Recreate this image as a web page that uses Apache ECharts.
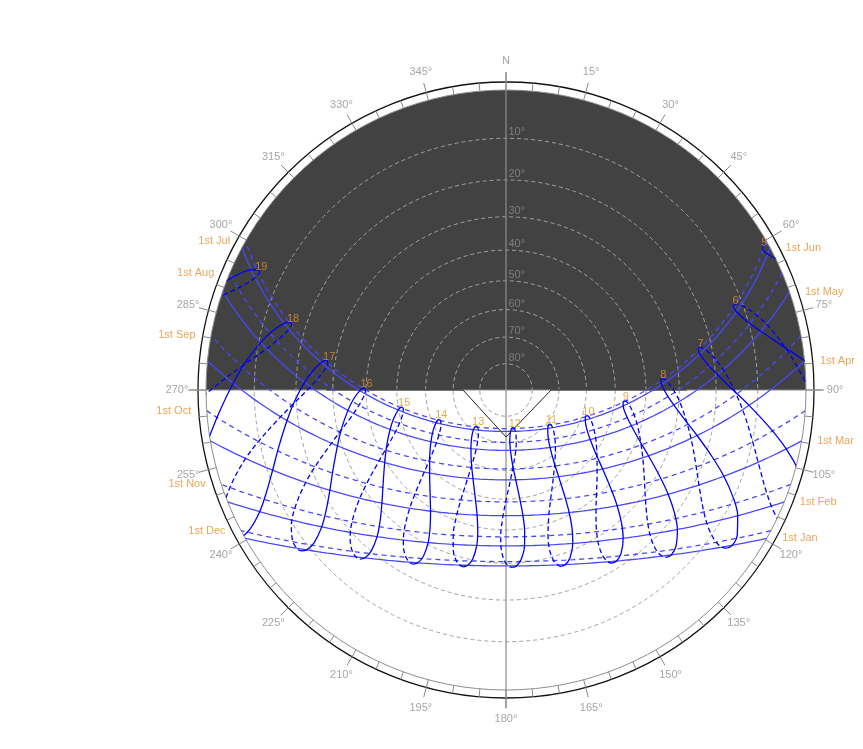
<!DOCTYPE html>
<html><head><meta charset="utf-8">
<script src="https://cdn.jsdelivr.net/npm/echarts@6/dist/echarts.min.js"></script>
<style>html,body{margin:0;padding:0;background:#fff}#c{width:863px;height:749px}</style>
</head><body><div id="c"></div>
<script>
// ---- site ----
const latitude = 37.77;
const longitude = -122.42;
const timeZone = -8;

// ---- date table (1st / 15th of each month + solstices), in yearly order ----
const dayNames = ['1 Jan','15 Jan','1 Feb','15 Feb','1 Mar','15 Mar','1 Apr','15 Apr','1 May','15 May','1 Jun','15 Jun','21 Jun',
  '1 Jul','15 Jul','1 Aug','15 Aug','1 Sep','15 Sep','1 Oct','15 Oct','1 Nov','15 Nov','1 Dec','15 Dec','21 Dec'];
const declination = [-23.01,-21.17,-17.15,-12.77,-7.70,-2.28,4.42,9.67,15.02,18.83,22.03,23.31,23.44,
  23.12,21.57,17.98,13.96,8.28,2.98,-3.13,-8.54,-14.39,-18.53,-21.77,-23.27,-23.44];
const equationOfTime = [-3.2,-9.1,-13.6,-14.2,-12.5,-9.0,-4.0,0.0,2.9,3.7,2.3,-0.2,-1.5,
  -3.8,-5.9,-6.3,-4.5,0.0,4.6,10.1,14.1,16.4,15.4,11.0,4.9,2.0];

// ---- date lines ----
const dateLineNames = ['1st Jan','1st Feb','1st Mar','1st Apr','1st May','1st Jun','1st Jul','1st Aug','1st Sep','1st Oct','1st Nov','1st Dec'];
const dateLineIndex = [0,2,4,6,8,10,13,15,17,19,21,23];
// ---- hour lines ----
const hours = [5,6,7,8,9,10,11,12,13,14,15,16,17,18,19];
const firstHalfIndex = [25,0,1,2,3,4,5,6,7,8,9,10,11,12];
const secondHalfIndex = [12,13,14,15,16,17,18,19,20,21,22,23,24,25];
const hourLabelIndex = 12;
// ---- grid ----
const altitudeRings = [10,20,30,40,50,60,70,80];
const azimuthTicks = Array.from({length:72},(_,i)=>i*5);
const azimuthLabelAngles = [0,15,30,45,60,75,90,105,120,135,150,165,180,195,210,225,240,255,270,285,300,315,330,345];
const azimuthLabelTexts = ['N','15°','30°','45°','60°','75°','90°','105°','120°','135°','150°','165°','180°','195°','210°','225°','240°','255°','270°','285°','300°','315°','330°','345°'];
// ---- obstruction outline (azimuth, altitude) ----
const maskAzimuth = [270,270,180,90,90];
const maskAltitude = [28.2,73.7,72.2,72.9,27.9];

const D2R = Math.PI/180;
const lonCorr = 4*(longitude - 15*timeZone);
function stereo(alt){ return Math.tan((90-alt)/2*D2R); }
function sunAt(i, clock){
  const d = declination[i]*D2R, p = latitude*D2R;
  const solar = clock + (equationOfTime[i] + lonCorr)/60;
  const H = (solar-12)*15*D2R;
  const sa = Math.sin(p)*Math.sin(d)+Math.cos(p)*Math.cos(d)*Math.cos(H);
  const alt = Math.asin(Math.max(-1,Math.min(1,sa)))/D2R;
  const xE = -Math.cos(d)*Math.sin(H);
  const yN = Math.sin(d)*Math.cos(p) - Math.cos(d)*Math.sin(p)*Math.cos(H);
  let az = Math.atan2(xE,yN)/D2R; if(az<0) az+=360;
  return {alt, az};
}
function riseSet(i){
  const d = declination[i]*D2R, p = latitude*D2R;
  const h0 = Math.acos(-Math.tan(p)*Math.tan(d))/D2R/15;
  const shift = (equationOfTime[i]+lonCorr)/60;
  return [12-h0-shift, 12+h0-shift];
}

const FONT = 'Liberation Sans, Arial, sans-serif';
const HOUR_COLOR = '#0000f5';
const DATE_COLOR = '#4848fa';
const ORANGE = '#e0922e';
const series = [];

// dark half disk (northern half of the sky)
series.push({
  type:'custom', coordinateSystem:'polar', polarIndex:0, z:1, silent:true,
  data:[[1,270,450]],
  renderItem:(params, api)=>{
    const c = api.coord([0,0]);
    const p = api.coord([api.value(0),0]);
    const r = c[1]-p[1];
    return {type:'sector', shape:{cx:c[0],cy:c[1],r0:0,r:r,
      startAngle:(api.value(1)-90)*D2R, endAngle:(api.value(2)-90)*D2R, clockwise:true},
      style:{fill:'#424242'}};
  }
});
// altitude rings
series.push({
  type:'custom', coordinateSystem:'polar', polarIndex:0, z:2, silent:true,
  data: altitudeRings.map(a=>[stereo(a),0]),
  renderItem:(params, api)=>{
    const c = api.coord([0,0]);
    const p = api.coord([api.value(0),0]);
    return {type:'circle', shape:{cx:c[0],cy:c[1],r:c[1]-p[1]},
      style:{fill:'none', stroke:'#a2a2a2', lineWidth:1, lineDash:[4,3]}};
  }
});
// outer rings
series.push({
  type:'custom', coordinateSystem:'polar', polarIndex:1, z:3, silent:true,
  data:[[1,0],[1.0267,0]],
  renderItem:(params, api)=>{
    const c = api.coord([0,0]);
    const p = api.coord([api.value(0),0]);
    return {type:'circle', shape:{cx:c[0],cy:c[1],r:c[1]-p[1]},
      style:{fill:'none', stroke: params.dataIndex===0?'#8e8e8e':'#111', lineWidth: params.dataIndex===0?1:1.3}};
  }
});
// ticks
series.push({
  type:'custom', coordinateSystem:'polar', polarIndex:1, z:3, silent:true,
  data: azimuthTicks.map(a=>[1,a]),
  renderItem:(params, api)=>{
    const a = api.value(1);
    const major = a%15===0;
    const p1 = api.coord([1,a]);
    const p2 = api.coord([major?1.06:1.0267,a]);
    return {type:'line', shape:{x1:p1[0],y1:p1[1],x2:p2[0],y2:p2[1]},
      style:{stroke:'#8a8a8a', lineWidth:1}};
  }
});
// cross lines
series.push({type:'line', coordinateSystem:'polar', polarIndex:1, z:4, silent:true, symbol:'none', clip:false,
  data:[[1.055,270],[1.055,90]], lineStyle:{color:'#8c8c8c', width:1.2}});
series.push({type:'line', coordinateSystem:'polar', polarIndex:1, z:4, silent:true, symbol:'none', clip:false,
  data:[[1.058,0],[1.062,180]], lineStyle:{color:'#8c8c8c', width:1.2}});
// obstruction outline
series.push({type:'line', coordinateSystem:'polar', polarIndex:0, z:5, silent:true, symbol:'none',
  data: maskAzimuth.map((a,i)=>[stereo(maskAltitude[i]),a]), lineStyle:{color:'#222', width:1}});

// date lines
dateLineIndex.forEach((idx, k)=>{
  const [rise,set] = riseSet(idx);
  const pts = [];
  for(let t=rise; t<set; t+=1/12){ const s=sunAt(idx,t); pts.push([stereo(Math.max(0,s.alt)), s.az]); }
  const s=sunAt(idx,set); pts.push([stereo(Math.max(0,s.alt)), s.az]);
  series.push({type:'line', coordinateSystem:'polar', polarIndex:0, z:6, silent:true, symbol:'none',
    name: dateLineNames[k], data: pts,
    lineStyle:{color:DATE_COLOR, width:1.3, type: k<6?'solid':[5,4]}});
});
// hour lines
hours.forEach(h=>{
  [firstHalfIndex, secondHalfIndex].forEach((list, half)=>{
    const pts = list.map(i=>{ const s=sunAt(i,h); return [stereo(s.alt), s.az]; });
    series.push({type:'line', coordinateSystem:'polar', polarIndex:0, z:7, silent:true, symbol:'none',
      smooth:0.35, clip:true, data: pts,
      lineStyle:{color:HOUR_COLOR, width:1.3, type: half===0?'solid':[5,3]}});
  });
});

// labels
const hidden = {color:'rgba(0,0,0,0)'};
series.push({type:'scatter', coordinateSystem:'polar', polarIndex:1, z:10, silent:true, symbolSize:1, itemStyle:hidden,
  data: azimuthLabelAngles.map((a,i)=>({value:[1.097,a], name:azimuthLabelTexts[i]})),
  label:{show:true, position:'inside', formatter:'{b}', color:'#8e8e8e', fontSize:11, fontFamily:FONT}});
series.push({type:'scatter', coordinateSystem:'polar', polarIndex:0, z:10, silent:true, symbolSize:1, itemStyle:hidden, clip:false,
  data: altitudeRings.map(a=>({value:[stereo(a),0], name:a+'°'})),
  label:{show:true, position:[3,-11], formatter:'{b}', color:'#8a8a8a', fontSize:11, fontFamily:FONT}});
series.push({type:'scatter', coordinateSystem:'polar', polarIndex:0, z:11, silent:true, symbolSize:1, itemStyle:hidden, clip:false,
  data: hours.map(h=>{ const s=sunAt(hourLabelIndex,h); return {value:[stereo(s.alt), s.az], name:String(h)}; }),
  label:{show:true, position:'top', distance:-2, offset:[2,0], formatter:'{b}', color:ORANGE, fontSize:11, fontFamily:FONT}});
series.push({type:'scatter', coordinateSystem:'polar', polarIndex:1, z:11, silent:true, symbolSize:1, itemStyle:hidden,
  data: dateLineIndex.map((idx,k)=>{
    const [rise,set] = riseSet(idx);
    const s = sunAt(idx, k<6?rise:set);
    return {value:[1,s.az], name:dateLineNames[k], label:{position:k<6?'right':'left'}};
  }),
  label:{show:true, distance:15, formatter:'{b}', color:ORANGE, fontSize:11, fontFamily:FONT}});

const chart = echarts.init(document.getElementById('c'), null, {renderer:'canvas'});
chart.setOption({
  animation:false,
  backgroundColor:'#ffffff',
  polar:[{center:[506,390], radius:300},{center:[506,390], radius:330}],
  radiusAxis:[
    {polarIndex:0, type:'value', min:0, max:1, axisLine:{show:false}, axisTick:{show:false}, axisLabel:{show:false}, splitLine:{show:false}},
    {polarIndex:1, type:'value', min:0, max:1.1, axisLine:{show:false}, axisTick:{show:false}, axisLabel:{show:false}, splitLine:{show:false}}
  ],
  angleAxis:[
    {polarIndex:0, type:'value', min:0, max:360, startAngle:90, clockwise:true, axisLine:{show:false}, axisTick:{show:false}, axisLabel:{show:false}, splitLine:{show:false}},
    {polarIndex:1, type:'value', min:0, max:360, startAngle:90, clockwise:true, axisLine:{show:false}, axisTick:{show:false}, axisLabel:{show:false}, splitLine:{show:false}}
  ],
  series: series
});
</script></body></html>
